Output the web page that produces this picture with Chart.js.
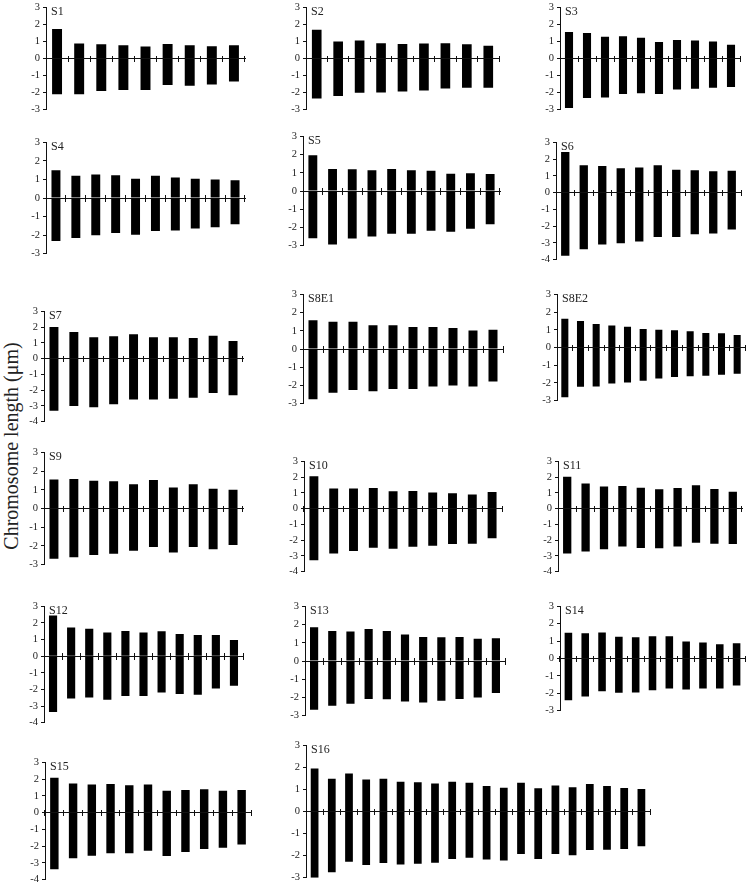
<!DOCTYPE html>
<html>
<head>
<meta charset="utf-8">
<script src="https://cdn.jsdelivr.net/npm/chart.js@4.4.1/dist/chart.umd.min.js"></script>
<style>
  html, body { margin: 0; padding: 0; background: #fff; }
  body { width: 746px; height: 886px; position: relative; overflow: hidden; font-family: "Liberation Serif", "Times New Roman", serif; }
  canvas { position: absolute; }
  .plab { position: absolute; font: 12px "Liberation Serif", serif; color: #222; line-height: 1; white-space: nowrap; }
  #ytitle { position: absolute; left: 11px; top: 446px; transform: translate(-50%, -50%) rotate(-90deg); font: 20px "Liberation Serif", serif; color: #222; white-space: nowrap; }
</style>
</head>
<body>
<div id="ytitle">Chromosome length (μm)</div>
<script>
// ---- data: short arm (p, positive) and long arm (q, negative) lengths, µm ----
const panelNames = ['S1','S2','S3','S4','S5','S6','S7','S8E1','S8E2','S9','S10','S11','S12','S13','S14','S15','S16'];
const axisMinima = [-3,-3,-3,-3,-3,-4,-4,-3,-3,-3,-4,-4,-4,-3,-3,-4,-3];
const axisMax = 3;

const S1_p = [1.73, 0.88, 0.83, 0.77, 0.70, 0.85, 0.78, 0.72, 0.78];
const S1_q = [-2.10, -2.10, -1.90, -1.85, -1.85, -1.55, -1.60, -1.52, -1.35];
const S2_p = [1.68, 1.00, 1.05, 0.90, 0.85, 0.88, 0.90, 0.83, 0.74];
const S2_q = [-2.35, -2.20, -2.01, -1.99, -1.93, -1.88, -1.76, -1.71, -1.72];
const S3_p = [1.56, 1.49, 1.28, 1.31, 1.22, 0.97, 1.09, 1.06, 0.99, 0.81];
const S3_q = [-2.90, -2.31, -2.28, -2.08, -2.03, -2.08, -1.82, -1.77, -1.72, -1.67];
const S4_p = [1.49, 1.20, 1.26, 1.22, 1.04, 1.20, 1.10, 1.04, 0.99, 0.96];
const S4_q = [-2.32, -2.16, -2.01, -1.89, -1.98, -1.78, -1.75, -1.64, -1.58, -1.41];
const S5_p = [1.96, 1.21, 1.19, 1.14, 1.21, 1.14, 1.11, 0.94, 0.97, 0.93];
const S5_q = [-2.59, -2.93, -2.61, -2.49, -2.34, -2.34, -2.18, -2.23, -2.07, -1.83];
const S6_p = [2.42, 1.63, 1.59, 1.46, 1.50, 1.63, 1.37, 1.34, 1.27, 1.30];
const S6_q = [-3.77, -3.37, -3.10, -3.02, -2.91, -2.64, -2.64, -2.48, -2.44, -2.20];
const S7_p = [2.00, 1.68, 1.35, 1.42, 1.55, 1.35, 1.35, 1.30, 1.45, 1.12];
const S7_q = [-3.30, -3.00, -3.08, -2.90, -2.60, -2.60, -2.55, -2.48, -2.18, -2.32];
const S8E1_p = [1.58, 1.50, 1.50, 1.30, 1.30, 1.20, 1.20, 1.15, 1.02, 1.05];
const S8E1_q = [-2.75, -2.40, -2.25, -2.32, -2.20, -2.20, -2.05, -2.00, -2.05, -1.78];
const S8E2_p = [1.62, 1.50, 1.32, 1.24, 1.17, 1.05, 1.00, 0.97, 0.92, 0.82, 0.80, 0.70];
const S8E2_q = [-2.80, -2.22, -2.20, -2.03, -1.98, -1.88, -1.75, -1.67, -1.62, -1.60, -1.53, -1.48];
const S9_p = [1.55, 1.57, 1.48, 1.45, 1.30, 1.52, 1.12, 1.30, 1.05, 1.00];
const S9_q = [-2.68, -2.60, -2.48, -2.42, -2.25, -2.05, -2.35, -2.05, -2.18, -1.95];
const S10_p = [2.05, 1.28, 1.27, 1.30, 1.10, 1.12, 1.02, 0.97, 0.90, 1.05];
const S10_q = [-3.28, -2.85, -2.68, -2.48, -2.55, -2.42, -2.35, -2.25, -2.22, -1.88];
const S11_p = [2.02, 1.60, 1.40, 1.43, 1.32, 1.22, 1.30, 1.48, 1.25, 1.07];
const S11_q = [-2.85, -2.72, -2.57, -2.40, -2.50, -2.52, -2.40, -2.17, -2.22, -2.25];
const S12_p = [2.45, 1.73, 1.65, 1.43, 1.52, 1.43, 1.50, 1.33, 1.27, 1.28, 0.98];
const S12_q = [-3.35, -2.55, -2.48, -2.62, -2.40, -2.40, -2.18, -2.28, -2.32, -1.95, -1.78];
const S13_p = [1.85, 1.65, 1.62, 1.75, 1.65, 1.45, 1.32, 1.30, 1.32, 1.22, 1.25];
const S13_q = [-2.68, -2.45, -2.35, -2.08, -2.10, -2.22, -2.28, -2.18, -2.08, -2.00, -1.75];
const S14_p = [1.48, 1.45, 1.50, 1.25, 1.22, 1.28, 1.28, 0.98, 0.92, 0.82, 0.88];
const S14_q = [-2.40, -2.18, -1.88, -1.97, -1.95, -1.82, -1.72, -1.78, -1.72, -1.72, -1.55];
const S15_p = [2.08, 1.73, 1.68, 1.70, 1.63, 1.68, 1.30, 1.35, 1.40, 1.30, 1.35];
const S15_q = [-3.38, -2.72, -2.57, -2.42, -2.43, -2.28, -2.58, -2.35, -2.17, -2.10, -1.90];
const S16_p = [1.95, 1.48, 1.72, 1.45, 1.48, 1.35, 1.33, 1.27, 1.35, 1.30, 1.15, 1.08, 1.30, 1.05, 1.18, 1.10, 1.25, 1.15, 1.07, 1.02];
const S16_q = [-3.00, -2.75, -2.28, -2.42, -2.33, -2.40, -2.37, -2.32, -2.15, -2.10, -2.18, -2.22, -1.93, -2.15, -1.93, -1.98, -1.75, -1.73, -1.70, -1.57];

const pArms = [S1_p, S2_p, S3_p, S4_p, S5_p, S6_p, S7_p, S8E1_p, S8E2_p, S9_p, S10_p, S11_p, S12_p, S13_p, S14_p, S15_p, S16_p];
const qArms = [S1_q, S2_q, S3_q, S4_q, S5_q, S6_q, S7_q, S8E1_q, S8E2_q, S9_q, S10_q, S11_q, S12_q, S13_q, S14_q, S15_q, S16_q];

// ---- layout (page pixels): y-axis x, x-axis right end, pixel of top value, pixel of bottom value ----
const panelBoxes = [
  [46, 245, 5, 112],
  [306, 499, 5, 112],
  [560, 740, 5, 112],
  [46, 245, 140, 256],
  [303, 500, 134, 248],
  [556, 741, 140, 262],
  [44, 243, 309, 424],
  [303, 503, 292, 406],
  [557, 745, 292, 403],
  [44, 243, 450, 567],
  [304, 502, 459, 574],
  [558, 742, 459, 574],
  [44, 243, 604, 725],
  [305, 505, 604, 718],
  [560, 745, 604, 713],
  [45, 251, 760, 882],
  [306, 650, 743, 880]
];

const YLAB_W = 30, PAD_T = 7, PAD_B = 7, PAD_R = 4;
const tickFont = { family: '"Liberation Serif", serif', size: 10.5 };

panelNames.forEach((name, i) => {
  const [ax, xe, yt, yb] = panelBoxes[i];
  const canvas = document.createElement('canvas');
  const W = (xe - ax) + YLAB_W + PAD_R;
  const H = (yb - yt) + PAD_T + PAD_B;
  const left = ax - YLAB_W, top = yt - PAD_T;
  canvas.width = W; canvas.height = H;
  canvas.style.left = left + 'px'; canvas.style.top = top + 'px';
  canvas.style.width = W + 'px'; canvas.style.height = H + 'px';
  document.body.appendChild(canvas);

  const labels = pArms[i].map((_, k) => String(k + 1));
  const chart = new Chart(canvas, {
    type: 'bar',
    data: {
      labels,
      datasets: [
        { label: 'p', data: pArms[i], backgroundColor: '#000', borderWidth: 0, barPercentage: 0.45, categoryPercentage: 1 },
        { label: 'q', data: qArms[i], backgroundColor: '#000', borderWidth: 0, barPercentage: 0.45, categoryPercentage: 1 }
      ]
    },
    options: {
      responsive: false,
      animation: false,
      events: [],
      layout: { padding: { top: PAD_T, bottom: PAD_B, left: 0, right: PAD_R } },
      plugins: { legend: { display: false }, tooltip: { enabled: false }, title: { display: false } },
      scales: {
        x: {
          type: 'category', position: { y: 0 }, offset: true, stacked: true,
          grid: { display: true, drawOnChartArea: false, drawTicks: true, tickLength: 3, color: '#111', lineWidth: 1, offset: true },
          border: { display: true, color: '#111', width: 1 },
          ticks: { display: false }
        },
        xt: {
          type: 'category', axis: 'x', position: { y: 0 }, offset: true,
          grid: { display: true, drawOnChartArea: false, drawTicks: true, tickLength: -3, color: '#111', lineWidth: 1, offset: true },
          border: { display: false },
          ticks: { display: false }
        },
        y: {
          type: 'linear', position: 'left', min: axisMinima[i], max: axisMax, stacked: true,
          ticks: { stepSize: 1, font: tickFont, color: '#222', padding: 3 },
          grid: { drawOnChartArea: false, drawTicks: true, tickLength: 3, color: '#111' },
          border: { display: true, color: '#111', width: 1 },
          afterFit(scale) { scale.width = YLAB_W; }
        }
      }
    }
  });

  const lab = document.createElement('div');
  lab.className = 'plab';
  lab.textContent = name;
  lab.style.left = (left + chart.chartArea.left + 5) + 'px';
  lab.style.top = (top + chart.chartArea.top - 2.5) + 'px';
  document.body.appendChild(lab);
});
</script>
</body>
</html>
